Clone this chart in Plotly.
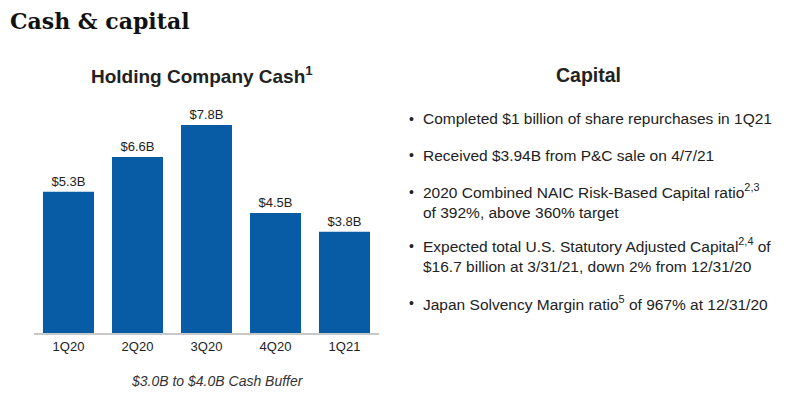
import plotly.graph_objects as go

quarters = ["1Q20", "2Q20", "3Q20", "4Q20", "1Q21"]
cash_billions = [5.3, 6.6, 7.8, 4.5, 3.8]
cash_labels = ["$5.3B", "$6.6B", "$7.8B", "$4.5B", "$3.8B"]

capital_bullets = [
    ["Completed $1 billion of share repurchases in 1Q21"],
    ["Received $3.94B from P&C sale on 4/7/21"],
    ["2020 Combined NAIC Risk-Based Capital ratio<sup>2,3</sup>", "of 392%, above 360% target"],
    ["Expected total U.S. Statutory Adjusted Capital<sup>2,4</sup> of", "$16.7 billion at 3/31/21, down 2% from 12/31/20"],
    ["Japan Solvency Margin ratio<sup>5</sup> of 967% at 12/31/20"],
]
bullet_y = [119, 155, 201, 255, 303]

W, H = 794, 395
OFF = 8  # page body offset
L, R, T, B = 34 - OFF, 415 + OFF, 93 - OFF, 62 + OFF
PW, PH = W - L - R, H - T - B

fig = go.Figure()
fig.add_trace(go.Bar(
    x=quarters, y=cash_billions, text=cash_labels,
    textposition="outside", cliponaxis=False,
    textfont=dict(family="Liberation Sans, Arial", size=13, color="#222"),
    marker=dict(color="#085ba5", line=dict(width=0)),
    hoverinfo="skip",
))

fig.update_layout(
    width=W, height=H,
    margin=dict(l=L, r=R, t=T, b=B),
    paper_bgcolor="white", plot_bgcolor="white",
    showlegend=False, bargap=0.26,
    font=dict(family="Liberation Sans, Arial", color="#222"),
)
fig.update_xaxes(showline=True, linecolor="#c8c8c8", linewidth=2, ticks="",
                 tickfont=dict(size=13, color="#222"), showgrid=False)
fig.update_yaxes(range=[0, 9], visible=False, showgrid=False)

def px_to_paper(x, y):
    x, y = x - OFF, y - OFF
    return (x - L) / PW, (H - B - y) / PH

ann = []
def add_text(x, y, text, size, xanchor="left", family="Liberation Sans, Arial", color="#222"):
    px, py = px_to_paper(x, y)
    ann.append(dict(x=px, y=py, xref="paper", yref="paper", xanchor=xanchor, yanchor="middle",
                    text=text, showarrow=False, align="left",
                    font=dict(family=family, size=size, color=color)))

add_text(8, 21, "<b>Cash &amp; capital</b>", 22, family="DejaVu Serif, Georgia, serif", color="#111")
add_text(202, 75, "<b>Holding Company Cash<sup>1</sup></b>", 19, xanchor="center")
add_text(217, 381, "<i>$3.0B to $4.0B Cash Buffer</i>", 14, xanchor="center", color="#333")
add_text(588, 75, "<b>Capital</b>", 19.5, xanchor="center")

for lines, y in zip(capital_bullets, bullet_y):
    add_text(407, y - (9.5 if len(lines) == 2 else 0), "•", 14)
    add_text(421, y, "<br>".join(lines), 15.5)

fig.update_layout(annotations=ann)
fig.write_html("out.html")
